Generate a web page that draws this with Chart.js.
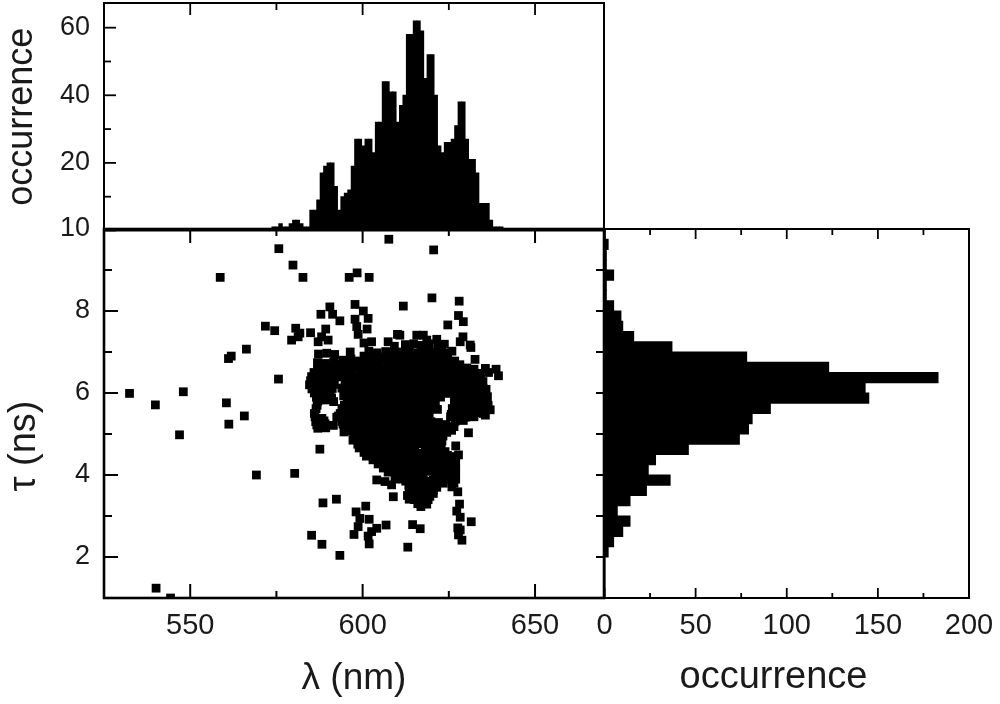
<!DOCTYPE html>
<html>
<head>
<meta charset="utf-8">
<script src="https://cdn.jsdelivr.net/npm/chart.js@4"></script>
<style>
html, body { margin: 0; background: #fff; }
canvas { position: absolute; }
</style>
</head>
<body>
<canvas id="topHist" width="620" height="240" style="left:0;top:0"></canvas>
<canvas id="scatter" width="620" height="504" style="left:0;top:200px"></canvas>
<canvas id="rightHist" width="410" height="504" style="left:590px;top:200px"></canvas>
<script>
// wavelength histogram, 1 nm bins
const lambdaBins = [574.2, 575.2, 576.2, 577.2, 578.2, 579.2, 580.2, 581.2, 582.2, 583.2, 584.2, 585.2,
    586.2, 587.2, 588.2, 589.2, 590.2, 591.2, 592.2, 593.2, 594.2, 595.2, 596.2, 597.2, 598.2, 599.2,
    600.2, 601.2, 602.2, 603.2, 604.2, 605.2, 606.2, 607.2, 608.2, 609.2, 610.2, 611.2, 612.2, 613.2,
    614.2, 615.2, 616.2, 617.2, 618.2, 619.2, 620.2, 621.2, 622.2, 623.2, 624.2, 625.2, 626.2, 627.2,
    628.2, 629.2, 630.2, 631.2, 632.2, 633.2, 634.2, 635.2, 636.2, 637.2, 638.2, 639.2, 640.2];
const lambdaCounts = [1, 1, 2, 1, 1, 2, 3, 3, 2, 1, 1, 6,
    6, 9, 17, 19, 20, 20, 13, 6, 10, 11, 12, 19, 27, 27,
    25, 27, 27, 23, 32, 32, 44, 44, 41, 41, 32, 37, 40, 58,
    58, 62, 62, 59, 45, 52, 52, 40, 25, 23, 26, 26, 27, 31,
    38, 38, 27, 21, 21, 17, 8, 8, 8, 3, 1, 1, 1];

// lifetime histogram, 0.25 ns bins
const tauBins = [9.875, 9.625, 9.375, 9.125, 8.875, 8.625, 8.375, 8.125, 7.875, 7.625, 7.375, 7.125,
    6.875, 6.625, 6.375, 6.125, 5.875, 5.625, 5.375, 5.125, 4.875, 4.625, 4.375, 4.125,
    3.875, 3.625, 3.375, 3.125, 2.875, 2.625, 2.375, 2.125];
const tauCounts = [0.3, 2, 1, 1, 5, 1, 1, 5, 9, 10, 16, 37,
    78, 123, 183, 143, 145, 91, 81, 79, 74, 46, 28, 24,
    36, 23, 14, 7, 14, 10, 5, 2];

// single molecule points, [lambda, tau]
const scatterPoints = [
    // outliers on the left and at the top
    [575.7, 9.52], [579.8, 9.12], [558.7, 8.82], [582.7, 8.82], [571.8, 7.63], [574.5, 7.52], [580.6, 7.58],
    [579.4, 7.29], [581.3, 7.37], [566.3, 7.07], [561.9, 6.9], [561.1, 6.84], [575.6, 6.34], [532.4, 5.99],
    [548, 6.03], [539.9, 5.71], [560.5, 5.76], [565.7, 5.44], [561.2, 5.24], [546.9, 4.98], [569.2, 4],
    [580.3, 4.04], [540.1, 1.24], [544.3, 1], [596.1, 8.82], [598.4, 8.93], [601.9, 8.82], [607.6, 9.75],
    [611.8, 8.12], [620.6, 9.49], [620.1, 8.32], [628, 8.24], [627.8, 7.89], [629.2, 7.74], [624.7, 7.66],
    // upper cluster
    [590.5, 8.1], [587.9, 7.92], [591.3, 7.92], [593.4, 7.76], [597.8, 8.16], [600.2, 8], [597.8, 7.8],
    [601.6, 7.82], [598.3, 7.62], [601.3, 7.56], [598.7, 7.43], [581.8, 7.46], [584.9, 7.47], [589.3, 7.56],
    [588.1, 7.37], [590, 7.29], [587.1, 7.25], [610.1, 7.43], [607.4, 7.25], [602.6, 7.25], [600.4, 7.22],
    [629.1, 7.37], [628.3, 7.25], [631.2, 7.17], [615.7, 7.41], [617.6, 7.41], [621.5, 7.31], [618.6, 7.29],
    [610.8, 7.41], [625.9, 7.02], [631.4, 7.11], [632.6, 6.82], [635.6, 6.6], [638.7, 6.58], [639.4, 6.42],
    [636.5, 6.5], [634.1, 6.36], [635.8, 6.09], [636.2, 5.91], [637, 5.59],
    [609.2, 7.14], [612.4, 7.18], [614.8, 7.2], [616.9, 7.16], [619.3, 7.2], [621.8, 7.15], [623.7, 7.19],
    // dense body
    [596.4, 7], [601.8, 7.02], [604.2, 6.98], [606.7, 7.01], [609.1, 6.97], [611.3, 7], [613.6, 7.03], [616.1, 6.98],
    [618.3, 7.01], [620.6, 6.99], [622.9, 7.02], [624.6, 6.97], [587.2, 6.95], [589.6, 6.97], [591.9, 6.94],
    [600.4, 6.9], [602.7, 6.92], [605, 6.88], [607.4, 6.91], [609.7, 6.89], [612, 6.92], [614.4, 6.9], [616.7, 6.88],
    [619, 6.91], [621.4, 6.89], [623.7, 6.92],
    [594.2, 6.8], [596.6, 6.83], [598.9, 6.78], [601.3, 6.81], [603.7, 6.79], [606, 6.82], [608.2, 6.8], [610.6, 6.77],
    [612.9, 6.82], [615.3, 6.79], [617.7, 6.81], [620, 6.78], [622.3, 6.83], [624.7, 6.8], [626.7, 6.78],
    [595.6, 6.7], [597.9, 6.72], [600.2, 6.68], [602.6, 6.71], [604.9, 6.69], [607.3, 6.72], [609.6, 6.7], [612, 6.68],
    [614.3, 6.71], [616.6, 6.69], [619, 6.72], [621.3, 6.7], [623.6, 6.68], [626, 6.71], [628.2, 6.69],
    [587.9, 6.65], [590.3, 6.67], [592.5, 6.64],
    [595.1, 6.6], [597.4, 6.63], [599.8, 6.58], [602.1, 6.62], [604.4, 6.6], [606.8, 6.57], [609.1, 6.62], [611.4, 6.59],
    [613.7, 6.61], [616.1, 6.58], [618.4, 6.63], [620.8, 6.6], [623.1, 6.57], [625.4, 6.62], [627.8, 6.59], [630.2, 6.61],
    [632.3, 6.58], [586.9, 6.74], [589.2, 6.72], [591.6, 6.75], [593.4, 6.7], [586.9, 6.57], [589.2, 6.55], [591.6, 6.58],
    [594.4, 6.5], [596.7, 6.52], [599.1, 6.48], [601.4, 6.51], [603.8, 6.49], [606.1, 6.52], [608.5, 6.5], [610.8, 6.48],
    [613.1, 6.51], [615.5, 6.49], [617.8, 6.52], [620.2, 6.5], [622.5, 6.48], [624.9, 6.51], [627.2, 6.49], [629.6, 6.52],
    [631.9, 6.5], [634, 6.48], [585.9, 6.5], [588.2, 6.48], [590.6, 6.51], [592.7, 6.49],
    [593.8, 6.4], [596.2, 6.43], [598.5, 6.38], [600.9, 6.41], [603.2, 6.39], [605.6, 6.42], [607.9, 6.4], [610.2, 6.37],
    [612.6, 6.42], [614.9, 6.39], [617.3, 6.41], [619.6, 6.38], [622, 6.43], [624.3, 6.4], [626.6, 6.37], [629, 6.42],
    [631.3, 6.39], [633.7, 6.41], [585.2, 6.4], [587.6, 6.38], [589.9, 6.42], [592.1, 6.39],
    [595, 6.3], [597.3, 6.32], [599.7, 6.28], [602, 6.31], [604.4, 6.29], [606.7, 6.32], [609.1, 6.3], [611.4, 6.28],
    [613.8, 6.31], [616.1, 6.29], [618.4, 6.32], [620.8, 6.3], [623.1, 6.28], [625.5, 6.31], [627.8, 6.29], [630.2, 6.32],
    [632.5, 6.3], [634.9, 6.28], [584.9, 6.3], [587.2, 6.32], [589.6, 6.28], [591.8, 6.31],
    [584.6, 6.2], [586.9, 6.23], [589.3, 6.18], [591.6, 6.21], [594.9, 6.22], [597.3, 6.19], [599.6, 6.23], [602, 6.2],
    [604.3, 6.17], [606.7, 6.22], [609, 6.19], [611.3, 6.21], [613.7, 6.18], [616, 6.23], [618.4, 6.2], [620.7, 6.17],
    [623.1, 6.22], [625.4, 6.19], [627.8, 6.21], [630.1, 6.18], [632.4, 6.22], [634.6, 6.2],
    [585.3, 6.1], [587.6, 6.12], [589.9, 6.08], [591.2, 6.11], [594, 6.12], [597.4, 6.1], [599.8, 6.12], [602.1, 6.08],
    [604.5, 6.11], [606.8, 6.09], [609.2, 6.12], [611.5, 6.1], [613.9, 6.08], [616.2, 6.11], [618.5, 6.09], [620.9, 6.12],
    [623.2, 6.1], [625.6, 6.08], [627.9, 6.11], [630.3, 6.09], [632.6, 6.12], [635, 6.1],
    [586, 6], [588.4, 6.03], [590.6, 5.98], [596.2, 6.02], [598.6, 5.99], [600.9, 6.03], [603.3, 5.98], [605.6, 6.01],
    [608, 5.99], [610.3, 6.02], [612.7, 5.98], [615, 6.03], [617.4, 6], [619.7, 5.97], [622.1, 6.02], [624.4, 5.99],
    [626.8, 6.01], [629.1, 5.98], [631.5, 6.03], [633.8, 6],
    [586.6, 5.9], [589, 5.92], [591, 5.88], [594.5, 5.93], [596.8, 5.9], [599.1, 5.92], [601.5, 5.88], [603.8, 5.91],
    [606.2, 5.89], [608.5, 5.92], [610.9, 5.9], [613.2, 5.88], [615.6, 5.91], [617.9, 5.89], [620.3, 5.92], [622.6, 5.9],
    [627.4, 5.88], [629.7, 5.91], [632.1, 5.89], [634.4, 5.92],
    [587, 5.8], [589.4, 5.83], [591.6, 5.79],
    [595.5, 5.83], [597.8, 5.8], [600.2, 5.84], [602.5, 5.79], [604.9, 5.82], [607.2, 5.8], [609.6, 5.83], [611.9, 5.78],
    [614.3, 5.82], [616.6, 5.8], [618.9, 5.84], [621.1, 5.79], [626.6, 5.81], [629, 5.84], [631.3, 5.79], [633.7, 5.82],
    [635.6, 5.78], [586.8, 5.7], [594.7, 5.7], [597, 5.72], [599.4, 5.68], [601.7, 5.71], [604.1, 5.69], [606.4, 5.72],
    [608.8, 5.7], [611.1, 5.68], [613.5, 5.71], [615.8, 5.69], [618.2, 5.72], [620.5, 5.7], [626.7, 5.68], [629.1, 5.71],
    [631.4, 5.69], [633.8, 5.72], [636.4, 5.7],
    [586.5, 5.62], [594, 5.62], [596.3, 5.65], [598.7, 5.6], [601, 5.63], [603.4, 5.61], [605.7, 5.64],
    [608.1, 5.6], [610.4, 5.63], [612.8, 5.59], [615.1, 5.64], [617.5, 5.61], [619.8, 5.63], [621.7, 5.6], [626, 5.62],
    [628.4, 5.65], [630.7, 5.6], [633.1, 5.63], [635.4, 5.6],
    [586, 5.5], [593.5, 5.5], [595.8, 5.52], [598.2, 5.48], [600.5, 5.51], [602.9, 5.49], [605.2, 5.52], [607.6, 5.5],
    [609.9, 5.48], [612.3, 5.51], [614.6, 5.49], [617, 5.52], [619.3, 5.5], [625.7, 5.48], [628, 5.51], [630.3, 5.49],
    [632.7, 5.52], [635, 5.5],
    [586.2, 5.42], [588.2, 5.38], [592.5, 5.41], [593, 5.44], [595.4, 5.4], [597.7, 5.43], [600.1, 5.39], [602.4, 5.42],
    [604.8, 5.44], [607.1, 5.4], [609.5, 5.43], [611.8, 5.38], [614.2, 5.42], [616.5, 5.4], [618.8, 5.44], [625.5, 5.42],
    [627.5, 5.38], [629.9, 5.41], [632.3, 5.42], [635.6, 5.46],
    [586.4, 5.3], [588.8, 5.32], [594, 5.3], [596.3, 5.32], [598.7, 5.28], [601, 5.31], [603.4, 5.29], [605.7, 5.32],
    [608.1, 5.3], [610.4, 5.28], [612.8, 5.31], [615.1, 5.29], [617.5, 5.32], [619.8, 5.3], [622, 5.28], [626.8, 5.31],
    [629.2, 5.33],
    [586.7, 5.22], [589.1, 5.25], [591.5, 5.21], [594.3, 5.24], [596.7, 5.21], [599, 5.25], [601.4, 5.2], [603.7, 5.23],
    [606.1, 5.26], [608.4, 5.22], [610.8, 5.24], [613.1, 5.2], [615.5, 5.25], [617.8, 5.22], [620.2, 5.24], [622.5, 5.2],
    [624.1, 5.23], [626.5, 5.18], [589.3, 5.15], [595.3, 5.15], [597.6, 5.13], [600, 5.17], [602.3, 5.14], [604.7, 5.16],
    [607, 5.13], [609.4, 5.17], [611.7, 5.15], [614.1, 5.13], [616.4, 5.16], [618.8, 5.14], [621.1, 5.17], [623.5, 5.15],
    [625.6, 5.13], [587, 5.14], [594.6, 5.05], [596.2, 5.07], [598.6, 5.03], [600.9, 5.06], [603.3, 5.04],
    [605.6, 5.07], [608, 5.03], [610.3, 5.06], [612.7, 5.04], [615, 5.08], [617.4, 5.05], [619.7, 5.03], [622.1, 5.07],
    [624.4, 5.04], [625.8, 5.09], [630.7, 5.03],
    [597.5, 4.95], [599.8, 4.97], [602.2, 4.93], [604.5, 4.96], [606.9, 4.94], [609.2, 4.97], [611.6, 4.95], [613.9, 4.93],
    [616.3, 4.96], [618.6, 4.94], [621, 4.97], [623.3, 4.95],
    [597.2, 4.85], [599.5, 4.88], [601.9, 4.83], [604.2, 4.86], [606.6, 4.84], [608.9, 4.87], [611.3, 4.83], [613.6, 4.86],
    [616, 4.88], [618.3, 4.84], [620.7, 4.87], [623, 4.83],
    [598.6, 4.75], [601, 4.77], [603.3, 4.73], [605.7, 4.76], [608, 4.74], [610.4, 4.77], [612.7, 4.75], [615.1, 4.73],
    [617.5, 4.76], [619.8, 4.74], [622.1, 4.77],
    [587.6, 4.63], [599, 4.66], [601.4, 4.69], [603.7, 4.64],
    [606.1, 4.67], [608.4, 4.64], [610.8, 4.68], [613.1, 4.65], [618.2, 4.66], [620.6, 4.63], [622.8, 4.68], [627, 4.71],
    [600.4, 4.55], [602.7, 4.57], [605.1, 4.53], [607.4, 4.56], [609.8, 4.54], [612.1, 4.57], [614.5, 4.55], [616.8, 4.53],
    [619.2, 4.56], [621.5, 4.54], [623.9, 4.57],
    [601.1, 4.46], [603.5, 4.49], [605.8, 4.44], [608.2, 4.47], [610.5, 4.45], [612.9, 4.48], [615.2, 4.44], [617.6, 4.47],
    [619.9, 4.49], [622.3, 4.45], [624.6, 4.48], [627.8, 4.49], [626, 4.45],
    // lower lobes
    [603, 4.37], [605.4, 4.39], [607.7, 4.35], [610.1, 4.38], [612.4, 4.36], [614.8, 4.39], [617.1, 4.37], [619.5, 4.35],
    [621.8, 4.38], [624.2, 4.36], [626.3, 4.39], [627, 4.3],
    [604.5, 4.27], [606.8, 4.3], [609.2, 4.25], [611.5, 4.28], [613.9, 4.25], [616.2, 4.29], [618.6, 4.26], [620.9, 4.29],
    [623.3, 4.25], [625.6, 4.28], [606, 4.17], [608.3, 4.19], [610.7, 4.15], [613, 4.18], [615.4, 4.16], [617.7, 4.19],
    [620, 4.17], [622.4, 4.15], [624.7, 4.18], [626.5, 4.16], [627, 4.1],
    [607.4, 4.07], [609.8, 4.1], [612.1, 4.05], [615, 4.08], [617.4, 4.06], [619.8, 4.09],
    [622.1, 4.05], [624.5, 4.08], [626, 4.04], [613.3, 4], [604.1, 3.88], [606.5, 3.84], [609.4, 3.9], [608.4, 3.76],
    [608.9, 3.47], [613.5, 3.41], [616.9, 3.23], [618.6, 3.29], [617.2, 3.43], [614.7, 3.55], [615.7, 3.76], [618.6, 3.59],
    [620.5, 3.63], [617.6, 3.88], [614.7, 3.88], [620.5, 3.88], [623.4, 3.8], [625.9, 3.71], [627.6, 3.59],
    [621.1, 3.95], [623.8, 3.97], [616, 3.97], [618.7, 3.72], [616.4, 3.6], [613.4, 3.75], [615.9, 3.5], [611.6, 3.9],
    [612.5, 3.85], [616, 3.85], [619, 3.85], [621.5, 3.85], [625.5, 3.9], [627, 3.9], [626.5, 3.8],
    [614, 3.7], [616.5, 3.7], [619.5, 3.7], [621.5, 3.7], [613.5, 3.6], [620.5, 3.55], [613, 3.5], [617.5, 3.5],
    [619.5, 3.48], [615, 3.4], [619, 3.4], [616, 3.3], [618, 3.3],
    // bottom group
    [588.5, 3.32], [592.4, 3.41], [600.9, 3.24], [598.1, 3.1], [599.2, 2.94], [601.9, 2.92], [598.7, 2.74], [597.5, 2.55],
    [604.1, 2.7], [606.8, 2.78], [601.6, 2.51], [601.9, 2.32], [602.6, 2.62], [585.2, 2.53], [588.2, 2.31], [593.4, 2.04],
    [613.1, 2.24], [614.5, 2.79], [616.7, 2.69], [631.5, 2.86], [628.1, 3.29], [627.3, 3.12], [628.3, 2.97], [627.6, 2.71],
    [628.3, 2.66], [627.8, 2.54], [628.8, 2.41]
];

const lambdaTicks = [550, 600, 650];
const tauTicks = [2, 4, 6, 8, 10];
const lambdaCountTicks = [20, 40, 60];
const tauCountTicks = [0, 50, 100, 150, 200];

// inward tick marks and the box, Chart.js only does outward ones
const framePlugin = {
    id: "frame",
    afterDatasetsDraw(chart, args, opts) {
        const { ctx, chartArea: a } = chart;
        const { x: xs, y: ys } = chart.scales;
        ctx.save();
        ctx.strokeStyle = "#000";
        ctx.lineWidth = opts.tickWidth;

        const marks = (scale, side, major, minor) => {
            const step = scale.options.ticks.stepSize;
            scale.ticks.forEach(t => {
                if (t.value % step !== 0) return;
                const len = t.value % (2 * step) === 0 ? major : minor;
                const p = scale.getPixelForValue(t.value);
                ctx.beginPath();
                if (side === "left") { ctx.moveTo(a.left, p); ctx.lineTo(a.left + len, p); }
                if (side === "right") { ctx.moveTo(a.right, p); ctx.lineTo(a.right - len, p); }
                if (side === "top") { ctx.moveTo(p, a.top); ctx.lineTo(p, a.top + len); }
                if (side === "bottom") { ctx.moveTo(p, a.bottom); ctx.lineTo(p, a.bottom - len); }
                ctx.stroke();
            });
        };
        opts.ticks.forEach(([axis, side, major, minor]) => {
            marks(axis === "x" ? xs : ys, side, major, minor);
        });

        ctx.lineWidth = opts.boxWidth;
        ctx.strokeRect(a.left, a.top, a.right - a.left, a.bottom - a.top);
        ctx.restore();
    }
};

// texts that sit away from the middle of their axis
const offsetTitlePlugin = {
    id: "offsetTitle",
    afterDraw(chart, args, opts) {
        if (!opts.text) return;
        const { ctx } = chart;
        ctx.save();
        ctx.font = opts.font;
        ctx.fillStyle = "#1a1a1a";
        ctx.textAlign = "center";
        ctx.textBaseline = "middle";
        ctx.translate(opts.x, opts.y);
        ctx.rotate(opts.rotation || 0);
        ctx.fillText(opts.text, 0, 0);
        ctx.restore();
    }
};

const FONT = "'Liberation Sans', Arial, sans-serif";

function axis(min, max, step, size, shown, fontSize, padding) {
    return {
        type: "linear",
        min: min,
        max: max,
        offset: false,
        grid: { display: false, drawTicks: false },
        border: { display: false },
        ticks: {
            display: shown.length > 0,
            stepSize: step,
            includeBounds: false,
            autoSkip: false,
            maxRotation: 0,
            padding: padding,
            color: "#1a1a1a",
            font: { family: FONT, size: fontSize },
            callback: v => (shown.includes(v) ? String(v) : "")
        },
        afterFit: s => {
            if (s.isHorizontal()) s.height = size;
            else s.width = size;
            // keep the plot box where it is, labels may hang over
            s.paddingTop = s.paddingBottom = s.paddingLeft = s.paddingRight = 0;
        }
    };
}

function baseOptions(padding, scales, frame, offsetTitle) {
    return {
        responsive: false,
        animation: false,
        layout: { padding: padding },
        scales: scales,
        plugins: {
            legend: { display: false },
            tooltip: { enabled: false },
            frame: frame,
            offsetTitle: offsetTitle || {}
        }
    };
}

// top: occurrence against wavelength
const topX = axis(525, 670, 25, 9.5, [], 28, 9);
const topY = axis(0, 67.3, 10, 104, lambdaCountTicks, 27, 14);
topY.title = { display: true, text: "occurrence", color: "#1a1a1a", font: { family: FONT, size: 36 }, padding: { top: 0, bottom: 0 } };

new Chart(document.getElementById("topHist"), {
    type: "bar",
    data: {
        datasets: [{
            data: lambdaBins.map((b, i) => ({ x: b, y: lambdaCounts[i] })),
            backgroundColor: "#000",
            barPercentage: 1,
            categoryPercentage: 1,
            inflateAmount: 0.5
        }]
    },
    options: baseOptions({ top: 3, right: 16 }, { x: topX, y: topY }, {
        boxWidth: 2,
        tickWidth: 1.8,
        ticks: [["y", "left", 12, 7], ["x", "top", 12, 7]]
    }),
    plugins: [framePlugin]
});

// middle: the scatter
const mainX = axis(525, 670, 25, 106, lambdaTicks, 29, 11);
mainX.title = { display: true, text: "λ (nm)", color: "#1a1a1a", font: { family: FONT, size: 37 }, padding: { top: 0, bottom: 3 } };
const mainY = axis(1, 10, 1, 104, tauTicks, 27, 14);

new Chart(document.getElementById("scatter"), {
    type: "scatter",
    data: {
        datasets: [{
            data: scatterPoints.map(p => ({ x: p[0], y: p[1] })),
            pointStyle: "rect",
            pointRadius: 6.2,
            pointBorderWidth: 0,
            backgroundColor: "#000"
        }]
    },
    options: baseOptions({ top: 29, right: 16 }, { x: mainX, y: mainY }, {
        boxWidth: 2.6,
        tickWidth: 2,
        ticks: [["y", "left", 14, 8], ["y", "right", 8, 8], ["x", "top", 14, 7], ["x", "bottom", 14, 7]]
    }, {
        text: "τ (ns)",
        font: "38px " + FONT,
        x: 25,
        y: 246,
        rotation: -Math.PI / 2
    }),
    plugins: [framePlugin, offsetTitlePlugin]
});

// right: occurrence against lifetime
const sideX = axis(0, 200, 25, 106, tauCountTicks, 29, 11);
const sideY = axis(1, 10, 1, 14.5, [], 27, 0);

new Chart(document.getElementById("rightHist"), {
    type: "bar",
    data: {
        datasets: [{
            data: tauBins.map((b, i) => ({ x: tauCounts[i], y: b })),
            backgroundColor: "#000",
            barPercentage: 1,
            categoryPercentage: 1,
            inflateAmount: 0.5
        }]
    },
    options: Object.assign(baseOptions({ top: 29, right: 31 }, { x: sideX, y: sideY }, {
        boxWidth: 2,
        tickWidth: 1.8,
        ticks: [["x", "top", 10, 6], ["x", "bottom", 10, 5]]
    }, {
        text: "occurrence",
        font: "38px " + FONT,
        x: 183.5,
        y: 478,
        rotation: 0
    }), { indexAxis: "y" }),
    plugins: [framePlugin, offsetTitlePlugin]
});
</script>
</body>
</html>
